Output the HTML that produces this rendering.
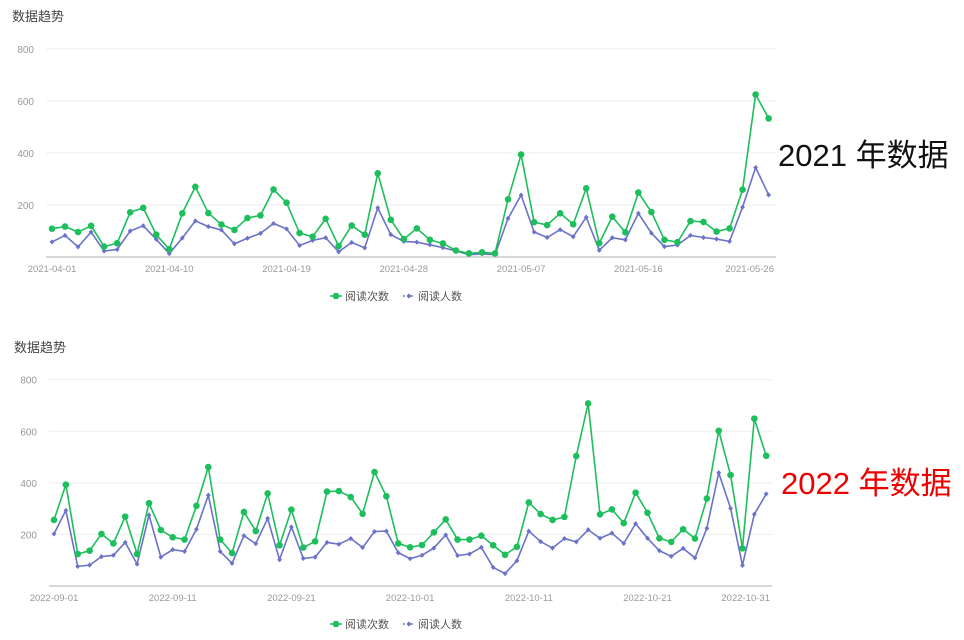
<!DOCTYPE html>
<html><head><meta charset="utf-8"><style>
body{margin:0;background:#fff;width:964px;height:640px;overflow:hidden;font-family:"Liberation Sans","Noto Sans CJK SC",sans-serif}
svg{position:absolute;left:0;top:0}
</style></head><body>
<svg id="s" width="964" height="640" xmlns="http://www.w3.org/2000/svg" font-family="Liberation Sans, Noto Sans CJK SC, sans-serif">
<text x="12" y="21" font-size="13" fill="#444">数据趋势</text>
<text x="14" y="352" font-size="13" fill="#444">数据趋势</text>
<text x="778" y="166" font-size="31" fill="#111">2021 年数据</text>
<text x="781" y="494" font-size="31" fill="#e00">2022 年数据</text>
</svg>
<script>
const NS="http://www.w3.org/2000/svg",S=document.getElementById('s');
function el(t,a,txt){const e=document.createElementNS(NS,t);for(const k in a)e.setAttribute(k,a[k]);if(txt)e.textContent=txt;S.appendChild(e);return e;}
function chart(c){
 for(const v of [200,400,600,800]){const y=c.y0-v*c.k;
  el('line',{x1:c.gx0,x2:c.gx1,y1:y,y2:y,stroke:'#eee','stroke-width':1});
  el('text',{x:c.gx0-12,y:y+4,'font-size':10,fill:'#999','text-anchor':'end'},String(v));}
 el('line',{x1:c.gx0,x2:c.gx1,y1:c.y0,y2:c.y0,stroke:'#ccc','stroke-width':1.5});
 const X=i=>c.x0+i*c.dx;
 c.labels.forEach(([i,t],j)=>{let x=X(i),a='middle';if(j==c.labels.length-1){x=c.gx1-2;a='end';}
  el('text',{x:x,y:c.y0+15,'font-size':9.5,fill:'#999','text-anchor':a},t);});
 const draw=(d,col,m)=>{el('polyline',{points:d.map((v,i)=>X(i)+','+(c.y0-v*c.k)).join(' '),fill:'none',stroke:col,'stroke-width':1.6});
  d.forEach((v,i)=>{const x=X(i),y=c.y0-v*c.k;
   if(m)el('circle',{cx:x,cy:y,r:3.3,fill:col});
   else el('polygon',{points:`${x},${y-2.6} ${x+2.4},${y} ${x},${y+2.6} ${x-2.4},${y}`,fill:col});});};
 draw(c.b,'#6b72c8',0);draw(c.g,'#1dbe5c',1);
 const ly=c.ly;
 el('line',{x1:c.lx-6,x2:c.lx+6,y1:ly,y2:ly,stroke:'#1dbe5c','stroke-width':1.5});
 el('circle',{cx:c.lx,cy:ly,r:3.3,fill:'#1dbe5c'});
 el('text',{x:c.lx+9,y:ly+4,'font-size':11,fill:'#555'},'阅读次数');
 const bx=c.lx+73;
 el('line',{x1:bx-6,x2:bx+6,y1:ly,y2:ly,stroke:'#6b72c8','stroke-width':1.5,'stroke-dasharray':'2,2'});
 el('polygon',{points:`${bx},${ly-2.6} ${bx+2.4},${ly} ${bx},${ly+2.6} ${bx-2.4},${ly}`,fill:'#6b72c8'});
 el('text',{x:bx+9,y:ly+4,'font-size':11,fill:'#555'},'阅读人数');
}
chart({x0:52,dx:13.03,y0:257,k:0.26,gx0:46,gx1:776,ly:296,lx:336,
 labels:[[0,'2021-04-01'],[9,'2021-04-10'],[18,'2021-04-19'],[27,'2021-04-28'],[36,'2021-05-07'],[45,'2021-05-16'],[54,'2021-05-26']],
 g:[109,117,96,120,40,53,172,189,86,30,168,270,169,125,104,150,160,260,209,92,78,147,42,121,86,322,143,69,110,66,52,25,14,18,14,222,394,134,123,168,126,264,53,155,95,248,173,66,57,138,135,98,110,259,625,533],
 b:[58,83,39,96,23,29,100,120,68,13,73,139,117,104,51,72,91,129,108,44,64,74,20,56,35,189,86,60,57,47,36,23,9,12,9,148,238,96,75,105,78,153,26,74,66,168,92,40,46,83,75,69,60,192,344,239]});
chart({x0:54,dx:11.87,y0:586,k:0.2579,gx0:49,gx1:772,ly:624,lx:336,
 labels:[[0,'2022-09-01'],[10,'2022-09-11'],[20,'2022-09-21'],[30,'2022-10-01'],[40,'2022-10-11'],[50,'2022-10-21'],[60,'2022-10-31']],
 g:[256,393,124,137,202,165,269,124,321,217,189,180,311,461,180,128,287,213,359,158,296,149,173,366,368,345,280,442,348,165,150,159,208,258,180,180,195,158,121,152,324,279,256,268,504,708,278,297,244,362,284,185,171,220,184,339,602,430,146,649,505],
 b:[202,293,76,81,114,119,169,85,275,112,141,134,220,352,134,88,195,164,262,102,229,107,112,169,162,184,149,211,213,129,106,119,147,198,118,124,150,72,48,98,213,172,147,184,171,218,185,205,165,242,185,137,115,146,109,224,439,301,80,278,357]});
</script>
</body></html>
